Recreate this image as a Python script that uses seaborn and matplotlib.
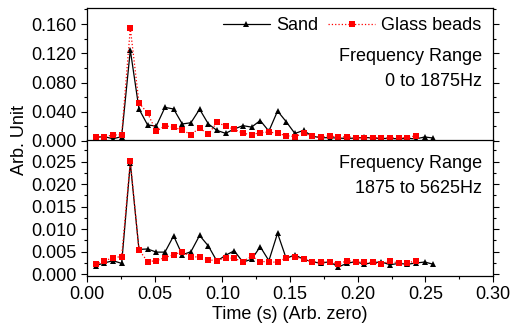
import numpy as np
import pandas as pd
import matplotlib
matplotlib.use("Agg")
import matplotlib.pyplot as plt
import seaborn as sns
from matplotlib.ticker import MultipleLocator, FormatStrFormatter

# time of each window (s), 256 samples at 40 kHz
time_sand = np.arange(1, 41) * 0.0064
time_glass = np.arange(1, 39) * 0.0064

# 0 to 1875 Hz
sand_low = [0.005, 0.006, 0.003, 0.006, 0.1245, 0.0438, 0.0219, 0.0205, 0.046, 0.0438,
            0.0233, 0.025, 0.0435, 0.0235, 0.0145, 0.0105, 0.0164, 0.021, 0.019, 0.028,
            0.0135, 0.041, 0.0264, 0.0103, 0.0145, 0.0065, 0.0045, 0.0045, 0.004, 0.0035,
            0.004, 0.005, 0.004, 0.0035, 0.0035, 0.003, 0.0035, 0.003, 0.0055, 0.004]
glass_low = [0.0055, 0.006, 0.008, 0.0087, 0.1546, 0.0524, 0.0379, 0.0132, 0.021, 0.0187,
             0.015, 0.0087, 0.0178, 0.009, 0.0255, 0.0205, 0.016, 0.0105, 0.0087, 0.0114,
             0.0123, 0.0105, 0.0073, 0.006, 0.0105, 0.0068, 0.005, 0.0073, 0.005, 0.0059,
             0.0046, 0.004, 0.0046, 0.004, 0.004, 0.0046, 0.0046, 0.0073]

# 1875 to 5625 Hz
sand_high = [0.0019, 0.0025, 0.003, 0.0024, 0.0247, 0.0055, 0.0056, 0.0049, 0.0049, 0.0085,
             0.0043, 0.005, 0.0086, 0.0063, 0.0029, 0.0042, 0.0052, 0.0027, 0.0033, 0.0061,
             0.003, 0.0091, 0.0035, 0.0043, 0.0033, 0.0028, 0.0024, 0.0028, 0.0016, 0.0024,
             0.0028, 0.0022, 0.0026, 0.0027, 0.0021, 0.0024, 0.0022, 0.0025, 0.0027, 0.0022]
glass_high = [0.0022, 0.0029, 0.0037, 0.0039, 0.0252, 0.0054, 0.0028, 0.003, 0.0037, 0.0043,
              0.005, 0.0039, 0.0038, 0.0032, 0.003, 0.0037, 0.0035, 0.0028, 0.004, 0.0028,
              0.0028, 0.0026, 0.0037, 0.0039, 0.0033, 0.0028, 0.0026, 0.0028, 0.0022, 0.003,
              0.0028, 0.0026, 0.0026, 0.0022, 0.003, 0.0024, 0.0025, 0.003]

panel_labels = ["0 to 1875Hz", "1875 to 5625Hz"]


def main():
    sns.set_style("ticks")
    plt.rcParams['font.family'] = ['Liberation Sans', 'DejaVu Sans']
    plt.rcParams['font.size'] = 13
    plt.rcParams['axes.linewidth'] = 0.9
    for key in ['text.color', 'axes.labelcolor', 'xtick.color', 'ytick.color',
                'axes.edgecolor']:
        plt.rcParams[key] = 'black'

    fig = plt.figure(figsize=(5.12, 3.24), dpi=100)
    left, right = 87 / 512, 493 / 512
    ax_top = fig.add_axes([left, 1 - 141 / 324, right - left, 133 / 324])
    ax_bot = fig.add_axes([left, 1 - 276 / 324, right - left, 136 / 324])

    panels = [(ax_top, sand_low, glass_low), (ax_bot, sand_high, glass_high)]
    for ax, sand, glass in panels:
        df_s = pd.DataFrame({'t': time_sand, 'v': sand})
        df_g = pd.DataFrame({'t': time_glass, 'v': glass})
        sns.lineplot(data=df_s, x='t', y='v', ax=ax, color='black', lw=0.9,
                     marker='^', markersize=4.5, markeredgewidth=0, label='Sand',
                     estimator=None, sort=False)
        sns.lineplot(data=df_g, x='t', y='v', ax=ax, color='red', lw=0.9,
                     linestyle=':', marker='s', markersize=4, markeredgewidth=0,
                     label='Glass beads', estimator=None, sort=False)
        ax.set_xlim(0, 0.30)
        ax.set_xlabel('')
        ax.set_ylabel('')
        ax.xaxis.set_major_locator(MultipleLocator(0.05))
        ax.xaxis.set_minor_locator(MultipleLocator(0.025))
        ax.tick_params(which='both', direction='out', right=True, top=False,
                       colors='black', labelsize=13)
        ax.tick_params(which='major', length=4, width=0.8)
        ax.tick_params(which='minor', length=2.5, width=0.8)
        for sp in ax.spines.values():
            sp.set_visible(True)
            sp.set_color('black')

    ax_top.set_ylim(0, 0.182)
    ax_top.yaxis.set_major_locator(MultipleLocator(0.04))
    ax_top.yaxis.set_minor_locator(MultipleLocator(0.02))
    ax_top.yaxis.set_major_formatter(FormatStrFormatter('%.3f'))
    ax_top.tick_params(labelbottom=False)
    ax_top.legend(ncol=2, loc='center right', bbox_to_anchor=(0.99, 0.865),
                  frameon=False, handlelength=2.6, handletextpad=0.35,
                  columnspacing=0.55, borderaxespad=0, fontsize=13)

    ax_bot.set_ylim(-0.0004, 0.0298)
    ax_bot.yaxis.set_major_locator(MultipleLocator(0.005))
    ax_bot.yaxis.set_minor_locator(MultipleLocator(0.0025))
    ax_bot.yaxis.set_major_formatter(FormatStrFormatter('%.3f'))
    ax_bot.xaxis.set_major_formatter(FormatStrFormatter('%.2f'))
    ax_bot.get_legend().remove()
    ax_bot.set_xlabel('Time (s) (Arb. zero)', fontsize=13, labelpad=2)

    ax_top.text(0.973, 0.632, 'Frequency Range', transform=ax_top.transAxes,
                ha='right', va='center', fontsize=13)
    ax_top.text(0.973, 0.451, panel_labels[0], transform=ax_top.transAxes,
                ha='right', va='center', fontsize=13)
    ax_bot.text(0.973, 0.824, 'Frequency Range', transform=ax_bot.transAxes,
                ha='right', va='center', fontsize=13)
    ax_bot.text(0.973, 0.647, panel_labels[1], transform=ax_bot.transAxes,
                ha='right', va='center', fontsize=13)

    fig.text(20 / 512, 1 - 140 / 324, 'Arb. Unit', rotation=90,
             ha='center', va='center', fontsize=13)

    fig.savefig('out.png', dpi=100)
    plt.close(fig)


if __name__ == '__main__':
    main()
